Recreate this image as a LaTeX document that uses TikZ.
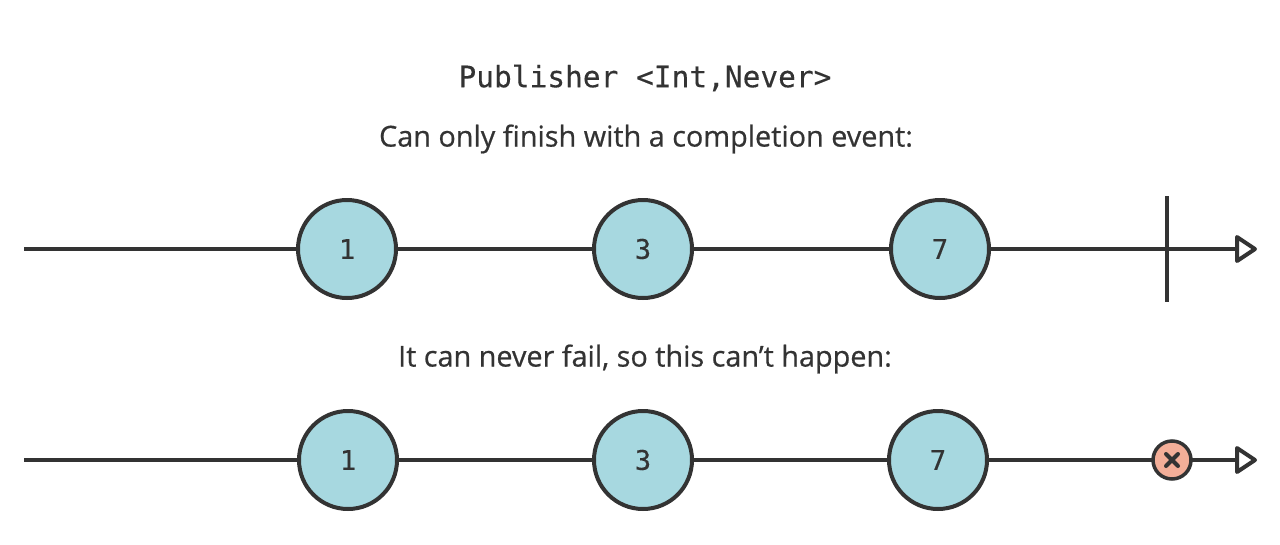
\documentclass[tikz,border=0pt]{standalone}
\usepackage{fontspec}
\setmainfont{Open Sans}
\setmonofont{DejaVu Sans Mono}
\newfontfamily\lblfont{Open Sans}[FakeBold=0.6]
\newfontfamily\numfont{DejaVu Sans Mono}[FakeBold=0.4]
\newfontfamily\ttlfont{DejaVu Sans Mono}[FakeBold=0.3]
\definecolor{ink}{HTML}{333333}
\definecolor{ball}{HTML}{A7D8E0}
\definecolor{errc}{HTML}{F3AE98}
\begin{document}
\begin{tikzpicture}[x=1pt,y=-1pt,
  line/.style={draw=ink,line width=4pt},
  head/.style={draw=ink,line width=4pt,line join=round,fill=white},
  ball/.style={circle,draw=ink,line width=4pt,fill=ball,minimum size=98pt,inner sep=0pt,font=\numfont\fontsize{27}{29}\selectfont,text=ink},
  errball/.style={circle,draw=ink,line width=3.5pt,fill=errc,minimum size=38pt,inner sep=0pt},
  lbl/.style={text=ink,font=\lblfont\fontsize{28.8}{32}\selectfont},
  ttl/.style={text=ink,font=\ttlfont\fontsize{29.5}{32}\selectfont}]
\useasboundingbox (0,0) rectangle (1280,544);
\node[ttl] (title) at (645,78) {Publisher <Int,Never>};
\node[lbl] (l1) at (646,139) {Can only finish with a completion event:};
\node[lbl] (l2) at (645,359) {It can never fail, so this can’t happen:};
% top timeline
\coordinate (s1) at (24,249);
\coordinate (e1) at (1237,249);
\draw[line] (s1) -- (e1);
\draw[head] (1237,237) -- (1255,249) -- (1237,261) -- cycle;
\node[ball] (a1) at (347,249) {1};
\node[ball] (a2) at (643,249) {3};
\node[ball] (a3) at (940,249) {7};
\coordinate (bt) at (1167,196);
\coordinate (bb) at (1167,302);
\draw[line] (bt) -- (bb);
% bottom timeline
\coordinate (s2) at (24,460);
\coordinate (e2) at (1237,460);
\draw[line] (s2) -- (e2);
\draw[head] (1237,448) -- (1255,460) -- (1237,472) -- cycle;
\node[ball] (b1) at (348,460) {1};
\node[ball] (b2) at (643,460) {3};
\node[ball] (b3) at (938,460) {7};
\node[errball] (x) at (1172,460) {};
\draw[ink,line width=4pt,line cap=round] ([shift={(-6,-6)}]x.center) -- ([shift={(6,6)}]x.center)
  ([shift={(-6,6)}]x.center) -- ([shift={(6,-6)}]x.center);
\end{tikzpicture}
\end{document}
